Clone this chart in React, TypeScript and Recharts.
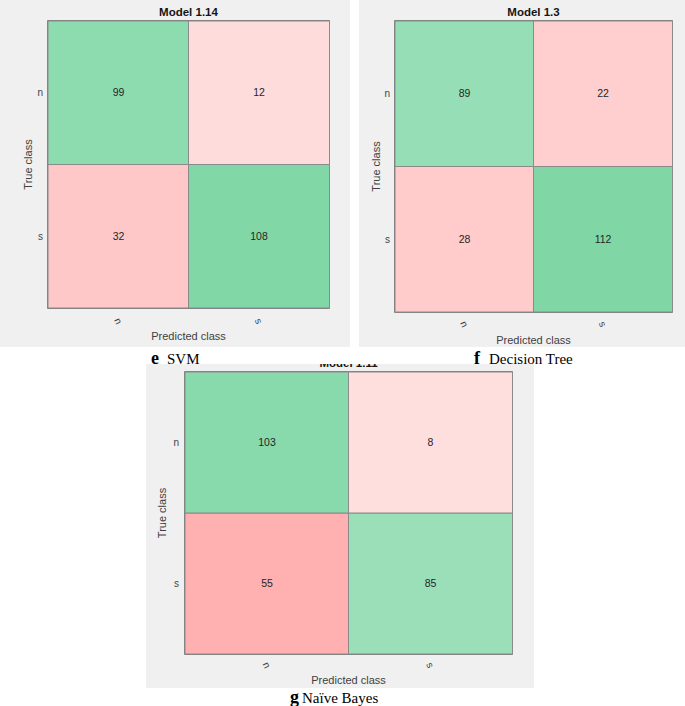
import React from 'react';
import { BarChart, Bar, XAxis, YAxis, Cell, LabelList, ReferenceArea } from 'recharts';

// Classes (predicted on x, true on y)
const classes = ['n', 's'];

// Confusion matrix counts: row = true class, entries = predicted n, predicted s
const svmTrueN = [99, 12];
const svmTrueS = [32, 108];
const treeTrueN = [89, 22];
const treeTrueS = [28, 112];
const bayesTrueN = [103, 8];
const bayesTrueS = [55, 85];

const modelTitles = ['Model 1.14', 'Model 1.3', 'Model 1.11'];
const captionLetters = ['e', 'f', 'g'];
const captionNames = ['SVM', 'Decision Tree', 'Naïve Bayes'];

// Cell colours
const svmColN = ['#8ddcb0', '#ffdcdc'];
const svmColS = ['#ffc8c8', '#82d7a6'];
const treeColN = ['#96dfb6', '#ffcfcf'];
const treeColS = ['#ffcbcb', '#80d6a5'];
const bayesColN = ['#88d9ac', '#ffdede'];
const bayesColS = ['#ffb1b1', '#9bdfb8'];

const FONT = '"Liberation Sans", Arial, Helvetica, sans-serif';

const XTick = (props: any) => {
  const { x, y, payload } = props;
  return (
    <g transform={`translate(${x},${y})`}>
      <text
        textAnchor="middle"
        dominantBaseline="central"
        transform="rotate(65)"
        fontSize={10}
        fill="#444"
        fontFamily={FONT}
      >
        {payload.value}
      </text>
    </g>
  );
};

type PanelProps = {
  left: number;
  top: number;
  width: number;
  height: number;
  margin: { top: number; right: number; left: number; bottom: number };
  yAxisWidth: number;
  xAxisHeight: number;
  yTickMargin: number;
  xTickMargin: number;
  yLabelOffset: number;
  xLabelOffset: number;
  title: string;
  titleBaseline: number;
  trueN: number[];
  trueS: number[];
  colN: string[];
  colS: string[];
};

const Panel = (p: PanelProps) => {
  const data = classes.map((c, i) => ({
    pred: c,
    rowS: 1,
    rowN: 1,
    sCount: p.trueS[i],
    nCount: p.trueN[i],
  }));
  const plotLeft = p.margin.left + p.yAxisWidth;
  const plotRight = p.width - p.margin.right;
  const titleX = (plotLeft + plotRight) / 2;
  return (
    <div
      style={{
        position: 'absolute',
        left: p.left,
        top: p.top,
        width: p.width,
        height: p.height,
        background: '#f0f0f0',
        overflow: 'hidden',
      }}
    >
      <BarChart
        width={p.width}
        height={p.height}
        data={data}
        margin={p.margin}
        barCategoryGap={0}
        style={{ fontFamily: FONT }}
      >
        <XAxis
          dataKey="pred"
          type="category"
          axisLine={false}
          tickLine={false}
          tickSize={0}
          tickMargin={p.xTickMargin}
          height={p.xAxisHeight}
          tick={<XTick />}
          label={{
            value: 'Predicted class',
            position: 'insideBottom',
            offset: p.xLabelOffset,
            fill: '#404040',
            fontSize: 11,
          }}
        />
        <YAxis
          type="number"
          domain={[0, 2]}
          ticks={[0.5, 1.5]}
          tickFormatter={(v: number) => classes[Math.floor(2 - v)]}
          axisLine={false}
          tickLine={false}
          tickSize={0}
          tickMargin={p.yTickMargin}
          width={p.yAxisWidth}
          tick={{ fill: '#444', fontSize: 10 }}
          label={{
            value: 'True class',
            angle: -90,
            position: 'insideLeft',
            offset: p.yLabelOffset,
            fill: '#404040',
            fontSize: 11,
            style: { textAnchor: 'middle' },
          }}
        />
        <Bar dataKey="rowS" stackId="m" isAnimationActive={false}>
          {data.map((d, i) => (
            <Cell key={`s${i}`} fill={p.colS[i]} stroke="#8a8a8a" strokeWidth={1} />
          ))}
          <LabelList dataKey="sCount" position="center" fill="#262626" fontSize={10.5} />
        </Bar>
        <Bar dataKey="rowN" stackId="m" isAnimationActive={false}>
          {data.map((d, i) => (
            <Cell key={`n${i}`} fill={p.colN[i]} stroke="#8a8a8a" strokeWidth={1} />
          ))}
          <LabelList dataKey="nCount" position="center" fill="#262626" fontSize={10.5} />
        </Bar>
        <ReferenceArea
          y1={0}
          y2={2}
          fill="none"
          fillOpacity={0}
          stroke="#5a5a5a"
          strokeWidth={1.5}
          ifOverflow="visible"
        />
      </BarChart>
      <svg
        width={p.width}
        height={p.height}
        style={{ position: 'absolute', left: 0, top: 0, pointerEvents: 'none' }}
      >
        <text
          x={titleX}
          y={p.titleBaseline}
          textAnchor="middle"
          fontFamily={FONT}
          fontWeight="bold"
          fontSize={11.5}
          fill="#151515"
        >
          {p.title}
        </text>
      </svg>
    </div>
  );
};

export default function App() {
  return (
    <div
      style={{
        position: 'absolute',
        left: 0,
        top: 0,
        width: 685,
        height: 706,
        background: '#ffffff',
        overflow: 'hidden',
      }}
    >
      <Panel
        left={0}
        top={0}
        width={350}
        height={347}
        margin={{ top: 21, right: 21, left: 0, bottom: 0 }}
        yAxisWidth={48}
        xAxisHeight={39}
        yTickMargin={5}
        xTickMargin={13}
        yLabelOffset={28}
        xLabelOffset={7}
        title={modelTitles[0]}
        titleBaseline={16}
        trueN={svmTrueN}
        trueS={svmTrueS}
        colN={svmColN}
        colS={svmColS}
      />
      <Panel
        left={359}
        top={0}
        width={326}
        height={347}
        margin={{ top: 21, right: 13, left: 0, bottom: 0 }}
        yAxisWidth={36}
        xAxisHeight={35}
        yTickMargin={5}
        xTickMargin={12}
        yLabelOffset={17}
        xLabelOffset={3}
        title={modelTitles[1]}
        titleBaseline={16}
        trueN={treeTrueN}
        trueS={treeTrueS}
        colN={treeColN}
        colS={treeColS}
      />
      <Panel
        left={146}
        top={364}
        width={388}
        height={324}
        margin={{ top: 8, right: 22, left: 0, bottom: 0 }}
        yAxisWidth={39}
        xAxisHeight={34}
        yTickMargin={6}
        xTickMargin={11}
        yLabelOffset={16}
        xLabelOffset={4}
        title={modelTitles[2]}
        titleBaseline={3}
        trueN={bayesTrueN}
        trueS={bayesTrueS}
        colN={bayesColN}
        colS={bayesColS}
      />
      <svg
        width={685}
        height={706}
        style={{ position: 'absolute', left: 0, top: 0, pointerEvents: 'none' }}
      >
        <g fontFamily='"Liberation Serif", "Times New Roman", serif' fill="#000">
          <text x={151} y={363.5} fontWeight="bold" fontSize={18}>{captionLetters[0]}</text>
          <text x={167} y={363.5} fontSize={15}>{captionNames[0]}</text>
          <text x={474} y={364} fontWeight="bold" fontSize={18}>{captionLetters[1]}</text>
          <text x={489} y={364} fontSize={15}>{captionNames[1]}</text>
          <text x={290} y={703} fontWeight="bold" fontSize={18}>{captionLetters[2]}</text>
          <text x={302} y={703} fontSize={15}>{captionNames[2]}</text>
        </g>
      </svg>
    </div>
  );
}
